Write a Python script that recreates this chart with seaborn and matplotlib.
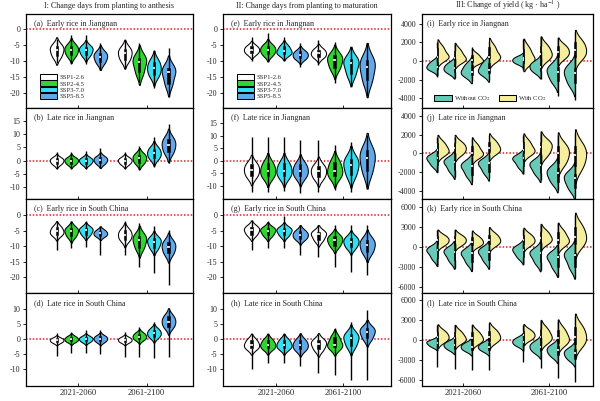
import numpy as np
import pandas as pd
import matplotlib
matplotlib.use("Agg")
import matplotlib.pyplot as plt
import seaborn as sns

# ---------------- data ----------------
periods = ["2021-2060", "2061-2100"]
ssps = ["SSP1-2.6", "SSP2-4.5", "SSP3-7.0", "SSP5-8.5"]
co2_levels = ["Without CO$_2$", "With CO$_2$"]
crops = ["Early rice in Jiangnan", "Late rice in Jiangnan",
         "Early rice in South China", "Late rice in South China"]
col_titles = ["I: Change days from planting to anthesis",
              "II: Change days from planting to maturation",
              "III: Change of yield ( kg \u00b7 ha$^{-1}$ )"]

# each row: [low, q1, median, q3, high]; rows: 2021-2060 SSP1..SSP5, then 2061-2100 SSP1..SSP5
anth_a = [[-10.5, -8.5, -6.5, -5.2, -3], [-11, -8.2, -6.5, -5.2, -1.8], [-11, -8.1, -6.5, -5.5, -1.8], [-12.8, -10.4, -8.6, -7.4, -4.4],
          [-12.3, -9.6, -7.6, -6.1, -3.4], [-16.5, -13.6, -10.2, -8.9, -4.4], [-18.6, -14.4, -12.3, -10.2, -6.5], [-21.3, -17.1, -13.4, -12.3, -6]]
anth_b = [[-3.2, -1.2, 0, 0.9, 3.2], [-3.2, -1.2, 0, 0.9, 3.2], [-3.2, -1.2, 0, 0.9, 3.8], [-3, -1, 0.3, 1.3, 4.7],
          [-3.2, -1.2, 0, 0.9, 3.2], [-3.6, -0.8, 0.9, 2.3, 5.7], [-2.3, 1.0, 2.8, 4.6, 9.1], [-1, 3.3, 6, 8.2, 13.8]]
anth_c = [[-11.2, -6.3, -5.3, -3.9, -2], [-10.7, -6.8, -5.2, -4.2, -2], [-10.4, -6.3, -4.9, -4.1, -1.8], [-12.8, -6.7, -5.9, -5, -3.5],
          [-12.8, -7.9, -6.4, -4.9, -2], [-16.6, -10.5, -8, -6.6, -2.7], [-18.7, -10.5, -8.6, -7.5, -3.7], [-22.5, -12.3, -10.2, -8.6, -4.8]]
anth_d = [[-5.6, -1.0, -0.3, 0.3, 2], [-4.7, -0.7, 0, 0.8, 2.5], [-4.7, -0.7, 0.1, 0.8, 3], [-5, -0.7, 0.2, 1, 3],
          [-5.8, -0.9, -0.2, 0.5, 2.5], [-5.8, 0, 0.9, 1.9, 4.2], [-6.3, 0.8, 2, 3.2, 5.9], [-6, 4.2, 5.9, 7.6, 9.8]]

mat_e = [[-10, -7.6, -6.5, -5.4, -2.3], [-10.2, -7.9, -6.5, -5.2, -1.3], [-10, -7.8, -7, -5.4, -2.3], [-11.8, -9.2, -8.1, -7, -4.4],
         [-11.3, -8.7, -7.6, -6.4, -3.4], [-17, -12.3, -9.7, -8.2, -3.9], [-18, -14.1, -10.7, -9.4, -5.5], [-21, -16.1, -11.8, -9.6, -4.4]]
mat_f = [[-12.4, -6.1, -3.7, -1.4, 9.6], [-12.4, -6.3, -4, -1.1, 9.6], [-12, -6.3, -4, -1.1, 9.6], [-13, -6.3, -4, -1.4, 8.3],
         [-12.4, -6.7, -4.3, -2.1, 8.3], [-11.7, -6.2, -4, -0.6, 6.3], [-12.4, -5.6, -1.7, 0.8, 7.6], [-11, -4.3, 0.9, 4.2, 10.3]]
mat_g = [[-11.2, -6.3, -4.8, -3.8, -1.6], [-10.7, -6.5, -5, -4.2, -2], [-10.7, -6.5, -5, -4.2, -0.5], [-12.8, -7.6, -6.4, -5.2, -3.2],
         [-13.4, -8, -6.2, -5.4, -3.2], [-16.6, -9.8, -8, -6.8, -3.2], [-18.2, -10.3, -8.6, -7.3, -3.2], [-19.2, -11.9, -9.6, -7.9, -3.2]]
mat_h = [[-10, -3, -1.9, -0.3, 1.6], [-8, -3, -1.9, -0.3, 1.6], [-8, -3, -1.9, -0.3, 1.6], [-9, -3.4, -2, -0.4, 1.6],
         [-11.3, -3.4, -1.5, -0.4, 1.6], [-11.9, -2.7, -1.8, 0.6, 3.7], [-13.5, -2.2, 0.3, 1.7, 5.9], [-13.5, 0.3, 2.5, 3.7, 9.8]]

yield_i_wo = [[-1700, -890, -600, -100, 500], [-1840, -1180, -780, -300, 300], [-2200, -1500, -1130, -410, 280], [-2020, -1330, -950, -230, 460],
              [-900, -210, 100, 410, 800], [-1900, -1100, -600, -150, 1100], [-3800, -2100, -1130, -600, 300], [-4140, -2400, -1300, -700, 640]]
yield_i_w = [[-500, 390, 460, 1410, 2050], [-600, 95, 280, 1100, 1880], [-600, -100, 100, 670, 1500], [-500, 330, 400, 1470, 2200],
             [-950, 0, 280, 1300, 2400], [-600, 300, 800, 1600, 2600], [-420, 450, 1000, 1600, 2500], [-600, 440, 1170, 2050, 3100]]
yield_j_wo = [[-2000, -1240, -540, -290, 360], [-2500, -1800, -900, -700, 0], [-3040, -2300, -1350, -1100, -360], [-2680, -1980, -1070, -880, -180],
              [-1960, -1360, -540, -420, 180], [-2860, -2100, -1250, -930, -180], [-3930, -3030, -2140, -1610, -710], [-4640, -3700, -2700, -2200, -1250]]
yield_j_w = [[-710, 0, 360, 1090, 1790], [-700, 0, 540, 1100, 1800], [-890, -220, 0, 830, 1500], [-600, 150, 540, 1250, 2000],
             [-700, 80, 350, 1200, 2000], [-1000, -100, 700, 1260, 2140], [-2200, -1000, 0, 800, 2000], [-2700, -1400, -180, 800, 2140]]
yield_k_wo = [[-2750, -1700, -500, -300, 750], [-3250, -2000, -750, -450, 500], [-3500, -2300, -1000, -700, 250], [-3250, -2000, -750, -450, 500],
              [-2500, -1500, -500, -100, 1000], [-3500, -2300, -1000, -650, 500], [-4500, -3000, -1500, -1250, 0], [-4750, -3000, -1250, -900, 250]]
yield_k_w = [[-500, 400, 1000, 1600, 2500], [-500, 400, 1000, 1600, 2500], [-500, 250, 750, 1450, 2250], [-500, 400, 1000, 1800, 2750],
             [-500, 400, 1000, 1750, 2600], [-400, 700, 1250, 2200, 3250], [-800, 500, 1000, 2200, 3500], [-1500, 400, 1500, 3000, 4750]]
yield_l_wo = [[-4000, -900, -400, -100, 500], [-4300, -1300, -750, -300, 500], [-4500, -1500, -1000, -500, 250], [-4500, -1500, -1000, -500, 250],
              [-3200, -750, -250, 250, 1000], [-4200, -1700, -1000, -400, 500], [-5600, -2300, -1500, -900, 0], [-6300, -2800, -2000, -1400, -500]]
yield_l_w = [[-1250, -100, 500, 1250, 2250], [-1300, -200, 250, 1150, 2250], [-1500, -250, 250, 1150, 2250], [-1500, -100, 500, 1400, 2500],
             [-1000, 200, 750, 1400, 2250], [-1500, -100, 500, 1600, 2750], [-1500, -400, 250, 1500, 2750], [-2500, -600, 500, 1900, 3500]]

day_ticks = [[0, -5, -10, -15, -20], [15, 10, 5, 0, -5, -10], [0, -5, -10, -15, -20], [10, 5, 0, -5, -10]]
yield_ticks = [[4000, 2000, 0, -2000, -4000], [4000, 2000, 0, -2000, -4000],
               [6000, 3000, 0, -3000, -6000], [6000, 3000, 0, -3000, -6000]]

# ---------------- style ----------------
sns.set_theme(style="ticks")
plt.rcParams["font.family"] = ["Liberation Serif", "DejaVu Serif"]
plt.rcParams["mathtext.fontset"] = "stix"
plt.rcParams["axes.unicode_minus"] = False

ssp_colors = dict(zip(ssps, ["#ffffff", "#2fd62f", "#35def0", "#62a8ea"]))
co2_colors = dict(zip(co2_levels, ["#66cab6", "#f4ee9e"]))

fig = plt.figure(figsize=(6.0, 4.01), dpi=100)
W, H = 600.0, 401.0
col_x = [(26, 193), (223, 391), (422, 593)]
row_y = [14, 108, 199, 293, 386]
col_xlim = [(-0.77, 1.68), (-0.79, 1.72), (-0.48, 1.51)]
col_width = [0.855, 0.97]
ylims = {"a": (-24.8, 4.8), "b": (-14.6, 20), "c": (-25, 5.1), "d": (-15.6, 15.4),
         "e": (-24.8, 4.8), "f": (-15.3, 21), "g": (-25, 5.1), "h": (-15.6, 15.4),
         "i": (-5050, 5050), "j": (-4900, 4860), "k": (-6950, 7150), "l": (-6830, 6980)}
FS = 5.8
box_style = dict(showcaps=False, showfliers=False, whis=(0, 100), linewidth=0.4, linecolor="black",
                 boxprops=dict(facecolor="black", edgecolor="black"),
                 whiskerprops=dict(linewidth=1.0, color="black"),
                 medianprops=dict(color="white", linewidth=1.2))


def add_ax(c, r):
    x0, x1 = col_x[c]
    y0, y1 = row_y[r], row_y[r + 1]
    return fig.add_axes([x0 / W, 1 - y1 / H, (x1 - x0) / W, (y1 - y0) / H])


def days_df(stats, body_only):
    rows = []
    for k, vals in enumerate(stats):
        use = vals[1:4] if body_only else vals
        for v in use:
            rows.append((periods[k // 4], ssps[k % 4], v))
    return pd.DataFrame(rows, columns=["period", "ssp", "value"])


def yield_df(wo, w, body_only):
    rows = []
    for k in range(8):
        pos = (k // 4) + (k % 4 - 1.5) * 0.2
        for lvl, src in zip(co2_levels, (wo, w)):
            use = src[k][1:4] if body_only else src[k]
            for v in use:
                rows.append((pos, lvl, v))
    return pd.DataFrame(rows, columns=["pos", "co2", "value"])


def finish(ax, c, r, letter, ticks):
    ax.axhline(0, color="#e0202a", ls=(0, (1, 1.2)), lw=1.1, zorder=0.5)
    ax.set_xlim(*col_xlim[c])
    ax.set_ylim(*ylims[letter])
    ax.set_yticks(ticks)
    ax.set_yticklabels([str(t) for t in ticks])
    ax.set_xticks([0, 1])
    ax.set_xticklabels(periods if r == 3 else [])
    ax.set_xlabel("")
    ax.set_ylabel("")
    ax.tick_params(axis="y", labelsize=FS, length=2.5, width=0.7, pad=1.5, direction="out")
    ax.tick_params(axis="x", labelsize=FS + 0.3, length=2.5, width=0.7, pad=2, direction="in")
    for s in ax.spines.values():
        s.set_visible(True)
        s.set_linewidth(0.9)
        s.set_color("black")
    xo = 0.045 if c < 2 else 0.03
    ax.text(xo, 1 - 10 / (row_y[r + 1] - row_y[r]), f"({letter})  {crops[r]}",
            transform=ax.transAxes, va="center", ha="left", fontsize=FS)


day_panels = [(0, "abcd", [anth_a, anth_b, anth_c, anth_d]),
              (1, "efgh", [mat_e, mat_f, mat_g, mat_h])]

for c, letters, stats_list in day_panels:
    for r in range(4):
        ax = add_ax(c, r)
        show_leg = (r == 0)
        sns.violinplot(data=days_df(stats_list[r], True), x="period", y="value", hue="ssp",
                       order=periods, hue_order=ssps, palette=ssp_colors, saturation=1,
                       width=col_width[c], gap=0.06, cut=2, density_norm="width", inner=None,
                       linecolor="black", linewidth=0.75, legend=show_leg, ax=ax)
        sns.boxplot(data=days_df(stats_list[r], False), x="period", y="value", hue="ssp",
                    order=periods, hue_order=ssps, palette={s: "black" for s in ssps},
                    width=col_width[c], gap=0.85, legend=False, ax=ax, **box_style)
        if show_leg:
            sns.move_legend(ax, "lower left", bbox_to_anchor=(0.06, 0.05), title=None, frameon=False,
                            fontsize=4.8, handlelength=2.6, handleheight=0.9, labelspacing=0.05,
                            handletextpad=0.3, borderpad=0.1)
        finish(ax, c, r, letters[r], day_ticks[r])

yield_panels = [(yield_i_wo, yield_i_w), (yield_j_wo, yield_j_w),
                (yield_k_wo, yield_k_w), (yield_l_wo, yield_l_w)]
for r in range(4):
    ax = add_ax(2, r)
    letter = "ijkl"[r]
    show_leg = (r == 0)
    sns.violinplot(data=yield_df(*yield_panels[r], True), x="pos", y="value", hue="co2",
                   hue_order=co2_levels, split=True, native_scale=True, palette=co2_colors,
                   saturation=1, width=1.3, cut=2, density_norm="width", inner=None,
                   linecolor="black", linewidth=0.75, legend=show_leg, ax=ax)
    sns.boxplot(data=yield_df(*yield_panels[r], False), x="pos", y="value", hue="co2",
                hue_order=co2_levels, native_scale=True, dodge=False,
                palette={l: "black" for l in co2_levels}, width=0.09, legend=False, ax=ax, **box_style)
    if show_leg:
        sns.move_legend(ax, "center", bbox_to_anchor=(0.4, 0.1), ncol=2, title=None, frameon=False,
                        fontsize=4.8, handlelength=2.6, handleheight=0.9, columnspacing=1.2,
                        handletextpad=0.3, borderpad=0.1)
    finish(ax, 2, r, letter, yield_ticks[r])

col_centers = [(26 + 193) / 2, (223 + 391) / 2, (422 + 593) / 2]
for c in range(3):
    fig.text(col_centers[c] / W, 1 - 6 / H, col_titles[c], ha="center", va="center", fontsize=FS)

fig.savefig("out.png", dpi=100)
